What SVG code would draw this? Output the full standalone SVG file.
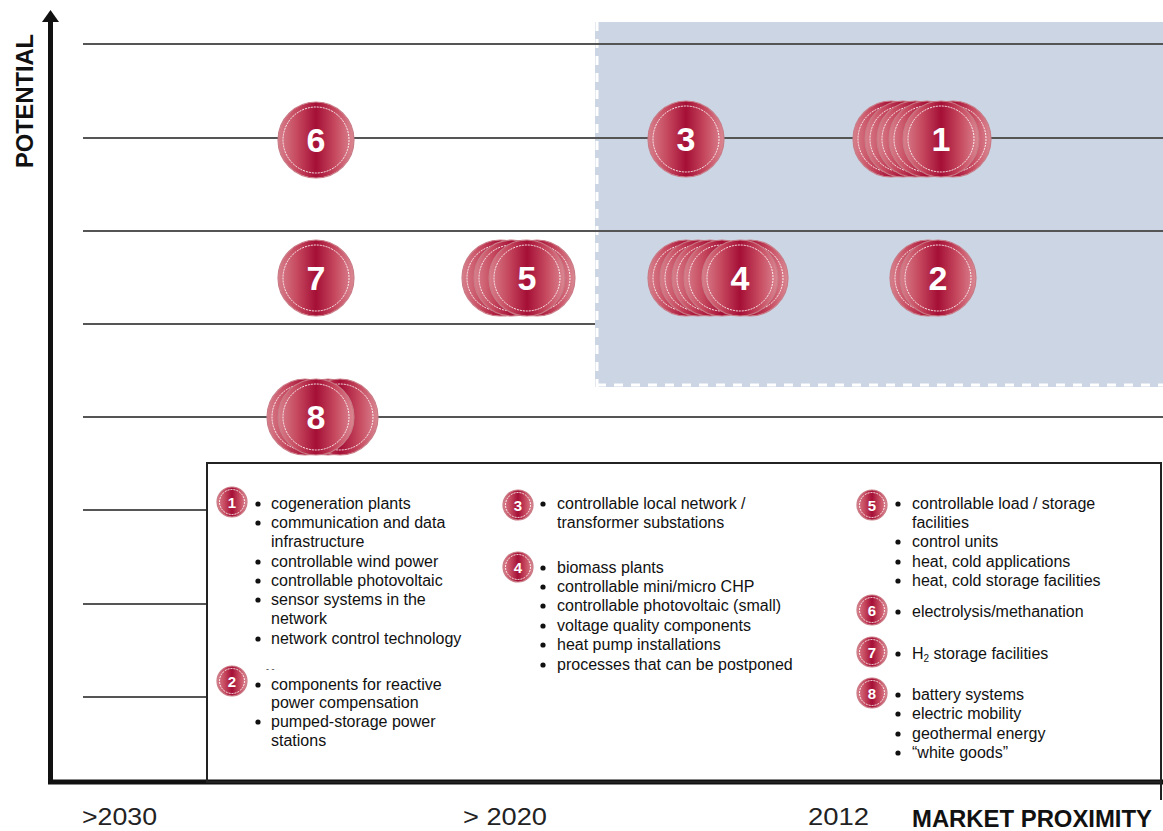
<svg xmlns="http://www.w3.org/2000/svg" width="1163" height="831" viewBox="0 0 1163 831">
<style>
.grid{stroke:#555;stroke-width:2}
.ax{stroke:#111;stroke-width:5}
.disc{fill:url(#rg);stroke:#c97b86;stroke-width:1.2}
.ring{fill:none;stroke:#fff;stroke-width:1;stroke-dasharray:2 1;opacity:0.9}
.num{font-family:"Liberation Sans",Arial,sans-serif;font-weight:bold;font-size:34px;fill:#fff;text-anchor:middle}
.snum{font-family:"Liberation Sans",Arial,sans-serif;font-weight:bold;font-size:15px;fill:#fff;text-anchor:middle}
.lt{font-family:"Liberation Sans",Arial,sans-serif;font-size:16px;fill:#111}
.yr{font-family:"Liberation Sans",Arial,sans-serif;font-size:24px;fill:#222}
.lab{font-family:"Liberation Sans",Arial,sans-serif;font-weight:bold;font-size:23px;fill:#111}
</style>
<defs>
<linearGradient id="rg" x1="0" y1="0" x2="1" y2="0">
<stop offset="0" stop-color="#d8808c"/>
<stop offset="0.25" stop-color="#c6495f"/>
<stop offset="0.5" stop-color="#a50f36"/>
<stop offset="0.75" stop-color="#c6495f"/>
<stop offset="1" stop-color="#db8893"/>
</linearGradient>
<g id="c"><circle class="disc" r="38"/><circle class="ring" r="33"/></g>
<g id="s"><circle class="disc" r="15"/><circle class="ring" r="12.5"/></g>
</defs>
<rect width="1163" height="831" fill="#fff"/>
<g id="highlight">
<rect x="595" y="22" width="568" height="365" fill="#cbd5e4"/>
<line x1="597" y1="22" x2="597" y2="387" stroke="#fff" stroke-width="3" stroke-dasharray="9 8"/>
<line x1="597" y1="385" x2="1163" y2="385" stroke="#fff" stroke-width="3" stroke-dasharray="9 8"/>
</g>
<g id="gridlines">
<line class="grid" x1="83" y1="44" x2="1163" y2="44"/>
<line class="grid" x1="83" y1="138" x2="1163" y2="138"/>
<line class="grid" x1="83" y1="231" x2="1163" y2="231"/>
<line class="grid" x1="83" y1="324" x2="595" y2="324"/>
<line class="grid" x1="83" y1="417" x2="1163" y2="417"/>
<line class="grid" x1="83" y1="510" x2="207" y2="510"/>
<line class="grid" x1="83" y1="604" x2="207" y2="604"/>
<line class="grid" x1="83" y1="697" x2="207" y2="697"/>
</g>
<g id="axes">
<line class="ax" x1="50.5" y1="20" x2="50.5" y2="784"/>
<polygon points="42,22 59,22 50.5,10" fill="#111"/>
<line class="ax" x1="48" y1="782" x2="1163" y2="782"/>
<text class="lab" transform="translate(33,168) rotate(-90)" textLength="134" lengthAdjust="spacingAndGlyphs">POTENTIAL</text>
<text class="lab" x="912" y="827" textLength="240" lengthAdjust="spacingAndGlyphs">MARKET PROXIMITY</text>
<text class="yr" x="82" y="825" textLength="75" lengthAdjust="spacingAndGlyphs">&gt;2030</text>
<text class="yr" x="463" y="825" textLength="84" lengthAdjust="spacingAndGlyphs">&gt; 2020</text>
<text class="yr" x="808" y="825" textLength="61" lengthAdjust="spacingAndGlyphs">2012</text>
</g>
<g id="node-6"><use href="#c" x="316" y="140"/><text class="num" x="316" y="152">6</text></g>
<g id="node-3"><use href="#c" x="686" y="139"/><text class="num" x="686" y="151">3</text></g>
<g id="node-1">
<use href="#c" x="891" y="139"/><use href="#c" x="903" y="139"/><use href="#c" x="915" y="139"/><use href="#c" x="927" y="139"/><use href="#c" x="953" y="139"/>
<use href="#c" x="941" y="139"/><text class="num" x="941" y="151">1</text></g>
<g id="node-7"><use href="#c" x="316" y="278"/><text class="num" x="316" y="290">7</text></g>
<g id="node-5">
<use href="#c" x="500" y="278"/><use href="#c" x="512" y="278"/><use href="#c" x="537" y="278"/>
<use href="#c" x="527" y="278"/><text class="num" x="527" y="290">5</text></g>
<g id="node-4">
<use href="#c" x="686" y="278"/><use href="#c" x="698" y="278"/><use href="#c" x="710" y="278"/><use href="#c" x="722" y="278"/><use href="#c" x="750" y="278"/>
<use href="#c" x="740" y="278"/><text class="num" x="740" y="290">4</text></g>
<g id="node-2">
<use href="#c" x="928" y="278"/>
<use href="#c" x="938" y="278"/><text class="num" x="938" y="290">2</text></g>
<g id="node-8">
<use href="#c" x="305" y="417"/><use href="#c" x="328" y="417"/><use href="#c" x="340" y="417"/>
<use href="#c" x="316" y="417"/><text class="num" x="316" y="429">8</text></g>
<g id="legend">
<rect x="207" y="463" width="954" height="319" fill="none" stroke="#222" stroke-width="2"/>
<line x1="1161" y1="770" x2="1161" y2="800" stroke="#222" stroke-width="2"/>
<g fill="#111">
<circle cx="258" cy="504" r="2.6"/><circle cx="258" cy="523" r="2.6"/><circle cx="258" cy="562" r="2.6"/><circle cx="258" cy="581" r="2.6"/><circle cx="258" cy="600" r="2.6"/><circle cx="258" cy="639" r="2.6"/>
<circle cx="258" cy="685" r="2.6"/><circle cx="258" cy="722" r="2.6"/>
<circle cx="543" cy="504" r="2.6"/><circle cx="543" cy="568" r="2.6"/><circle cx="543" cy="587" r="2.6"/><circle cx="543" cy="606" r="2.6"/><circle cx="543" cy="626" r="2.6"/><circle cx="543" cy="645" r="2.6"/><circle cx="543" cy="665" r="2.6"/>
<circle cx="898" cy="504" r="2.6"/><circle cx="898" cy="542" r="2.6"/><circle cx="898" cy="562" r="2.6"/><circle cx="898" cy="581" r="2.6"/><circle cx="898" cy="612" r="2.6"/><circle cx="898" cy="654" r="2.6"/><circle cx="898" cy="695" r="2.6"/><circle cx="898" cy="714" r="2.6"/><circle cx="898" cy="734" r="2.6"/><circle cx="898" cy="753" r="2.6"/>
</g>
<g id="leg-1"><use href="#s" x="232" y="502"/><text class="snum" x="232" y="507.5">1</text></g>
<g id="leg-2"><use href="#s" x="232" y="681"/><text class="snum" x="232" y="686.5">2</text></g>
<g id="leg-3"><use href="#s" x="518" y="505"/><text class="snum" x="518" y="510.5">3</text></g>
<g id="leg-4"><use href="#s" x="518" y="567"/><text class="snum" x="518" y="572.5">4</text></g>
<g id="leg-5"><use href="#s" x="872" y="505"/><text class="snum" x="872" y="510.5">5</text></g>
<g id="leg-6"><use href="#s" x="872" y="610"/><text class="snum" x="872" y="615.5">6</text></g>
<g id="leg-7"><use href="#s" x="872" y="652"/><text class="snum" x="872" y="657.5">7</text></g>
<g id="leg-8"><use href="#s" x="872" y="693"/><text class="snum" x="872" y="698.5">8</text></g>
<text class="lt" x="271" y="509">cogeneration plants</text>
<text class="lt" x="271" y="528">communication and data</text>
<text class="lt" x="271" y="547">infrastructure</text>
<text class="lt" x="271" y="567">controllable wind power</text>
<text class="lt" x="271" y="586">controllable photovoltaic</text>
<text class="lt" x="271" y="605">sensor systems in the</text>
<text class="lt" x="271" y="624">network</text>
<text class="lt" x="271" y="644">network control technology</text>
<text x="266" y="672" font-family="Liberation Sans,Arial,sans-serif" font-size="9" fill="#333">- -</text>
<text class="lt" x="271" y="690">components for reactive</text>
<text class="lt" x="271" y="708">power compensation</text>
<text class="lt" x="271" y="727">pumped-storage power</text>
<text class="lt" x="271" y="746">stations</text>
<text class="lt" x="557" y="509">controllable local network /</text>
<text class="lt" x="557" y="528">transformer substations</text>
<text class="lt" x="557" y="573">biomass plants</text>
<text class="lt" x="557" y="592">controllable mini/micro CHP</text>
<text class="lt" x="557" y="611">controllable photovoltaic (small)</text>
<text class="lt" x="557" y="631">voltage quality components</text>
<text class="lt" x="557" y="650">heat pump installations</text>
<text class="lt" x="557" y="670">processes that can be postponed</text>
<text class="lt" x="912" y="509">controllable load / storage</text>
<text class="lt" x="912" y="528">facilities</text>
<text class="lt" x="912" y="547">control units</text>
<text class="lt" x="912" y="567">heat, cold applications</text>
<text class="lt" x="912" y="586">heat, cold storage facilities</text>
<text class="lt" x="912" y="617">electrolysis/methanation</text>
<text class="lt" x="912" y="659">H<tspan font-size="10" dy="3">2</tspan><tspan dy="-3"> storage facilities</tspan></text>
<text class="lt" x="912" y="700">battery systems</text>
<text class="lt" x="912" y="719">electric mobility</text>
<text class="lt" x="912" y="739">geothermal energy</text>
<text class="lt" x="912" y="758">“white goods”</text>
</g>
</svg>
